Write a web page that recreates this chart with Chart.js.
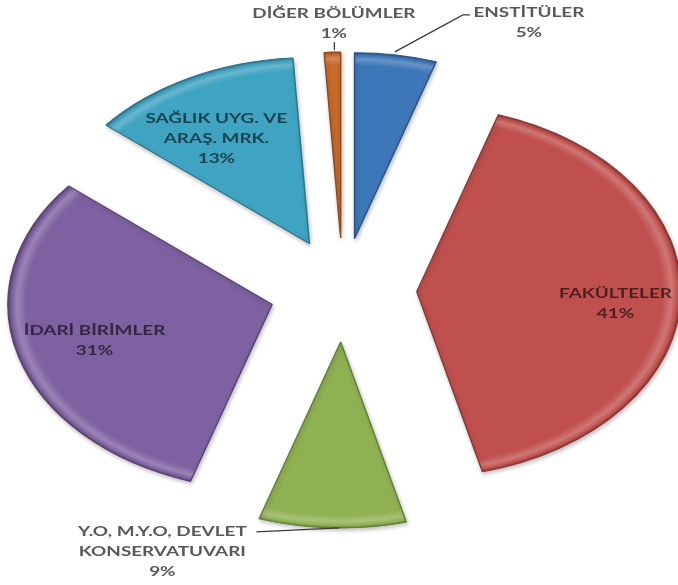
<!DOCTYPE html>
<html lang="tr">
<head>
<meta charset="utf-8">
<script src="https://cdn.jsdelivr.net/npm/chart.js@4.4.1/dist/chart.umd.min.js"></script>
<style>
  html, body { margin: 0; padding: 0; background: #fff; }
  .wrap { width: 678px; height: 585px; }
</style>
</head>
<body>
<div class="wrap"><canvas id="pieChart" width="678" height="585"></canvas></div>
<script>
// data, clockwise from the top
const categories = [
  ['ENSTİTÜLER'],
  ['FAKÜLTELER'],
  ['Y.O, M.Y.O, DEVLET', 'KONSERVATUVARI'],
  ['İDARİ BİRİMLER'],
  ['SAĞLIK UYG. VE', 'ARAŞ. MRK.'],
  ['DİĞER BÖLÜMLER']
]
const shares = [5, 41, 9, 31, 13, 1]
const sliceColors = ['#3E77B8', '#C0504D', '#8FB152', '#7E61A0', '#3FA4C2', '#C86A2A']

// look of the picture
const RADIUS = 186
const EXPLODE = 52
const STRETCH_X = 1.42
const TEXT_SX = 1.35
const LINE_H = 20
const FONT = 'bold 14px Lato, "Open Sans", sans-serif'

// where each label goes: inside ones along the slice, outside ones from the slice tip
const labelPlacement = [
  { outside: true, text: [133, -42], leader: [[-1, -3], [67, -40], [74, -40]] },
  { frac: 0.755, turn: 3 },
  { outside: true, text: [-170, 4], leader: [[7, 0], [-76, 4]] },
  { frac: 0.70, turn: 0 },
  { frac: 0.665, turn: -5 },
  { outside: true, text: [1.5, -39], leader: [[2, -2], [2, -10]] }
]

const total = shares.reduce((a, b) => a + b, 0)

function hexRgb(hex) {
  const n = parseInt(hex.slice(1), 16)
  return [(n >> 16) & 255, (n >> 8) & 255, n & 255]
}
function mix(hex, to, t) {
  const c = hexRgb(hex)
  const m = c.map((v) => Math.round(v + (to - v) * t))
  return 'rgb(' + m.join(',') + ')'
}

// stretched, exploded slices
const explodePlugin = {
  id: 'explode',
  beforeDatasetDraw(chart, args) {
    const ctx = chart.ctx
    args.meta.data.forEach((arc) => {
      const mid = (arc.startAngle + arc.endAngle) / 2
      ctx.save()
      ctx.translate(arc.x, arc.y)
      ctx.scale(STRETCH_X, 1)
      ctx.translate(-arc.x, -arc.y)
      ctx.translate(Math.cos(mid) * EXPLODE, Math.sin(mid) * EXPLODE)
      ctx.shadowColor = 'rgba(0,0,0,0.25)'
      ctx.shadowBlur = 4
      ctx.shadowOffsetX = 1
      ctx.shadowOffsetY = 2
      arc.draw(ctx)
      ctx.restore()
    })
    return false
  }
}

function drawText(ctx, str, x, y) {
  ctx.save()
  ctx.translate(x, y)
  ctx.scale(TEXT_SX, 1)
  ctx.fillText(str, 0, 0)
  ctx.restore()
}

const labelPlugin = {
  id: 'sliceLabels',
  afterDatasetsDraw(chart) {
    const ctx = chart.ctx
    const meta = chart.getDatasetMeta(0)
    ctx.save()
    ctx.font = FONT
    ctx.textAlign = 'center'
    ctx.textBaseline = 'middle'
    meta.data.forEach((arc, i) => {
      const p = labelPlacement[i]
      const mid = (arc.startAngle + arc.endAngle) / 2
      const lines = categories[i].concat([Math.round(shares[i] / total * 100) + '%'])
      if (p.outside) {
        const d = RADIUS + EXPLODE
        const tx = arc.x + STRETCH_X * Math.cos(mid) * d
        const ty = arc.y + Math.sin(mid) * d
        ctx.strokeStyle = '#3a3a3a'
        ctx.lineWidth = 1.3
        ctx.beginPath()
        p.leader.forEach(([dx, dy], k) => {
          if (k === 0) ctx.moveTo(tx + dx, ty + dy)
          else ctx.lineTo(tx + dx, ty + dy)
        })
        ctx.stroke()
        ctx.fillStyle = '#595959'
        lines.forEach((s, k) => drawText(ctx, s, tx + p.text[0], ty + p.text[1] + k * LINE_H))
      } else {
        const a = mid + p.turn * Math.PI / 180
        const ux = Math.cos(mid) * EXPLODE + Math.cos(a) * p.frac * RADIUS
        const uy = Math.sin(mid) * EXPLODE + Math.sin(a) * p.frac * RADIUS
        const x = arc.x + STRETCH_X * ux
        const y = arc.y + uy - (lines.length - 1) * LINE_H / 2
        ctx.fillStyle = 'rgba(0,0,0,0.6)'
        lines.forEach((s, k) => drawText(ctx, s, x, y + k * LINE_H))
      }
    })
    ctx.restore()
  }
}

const canvas = document.getElementById('pieChart')
new Chart(canvas.getContext('2d'), {
  type: 'pie',
  data: {
    labels: categories.map((c) => c.join(' ')),
    datasets: [
      {
        data: shares,
        radius: RADIUS,
        backgroundColor: (c) => {
          const i = c.dataIndex || 0
          const base = sliceColors[i]
          const area = c.chart.chartArea
          if (!area) return base
          const cx = (area.left + area.right) / 2
          const cy = (area.top + area.bottom) / 2
          const g = c.chart.ctx.createRadialGradient(cx, cy, 0, cx, cy, RADIUS)
          g.addColorStop(0, base)
          g.addColorStop(0.93, base)
          g.addColorStop(0.965, mix(base, 255, 0.22))
          g.addColorStop(0.988, base)
          g.addColorStop(1, mix(base, 0, 0.3))
          return g
        },
        borderColor: sliceColors.map((c) => mix(c, 0, 0.3)),
        borderWidth: 1
      }
    ]
  },
  options: {
    responsive: false,
    animation: false,
    events: [],
    layout: { padding: { left: 8, right: 0, top: 0, bottom: 5 } },
    plugins: {
      legend: { display: false },
      tooltip: { enabled: false }
    }
  },
  plugins: [explodePlugin, labelPlugin]
})
</script>
</body>
</html>
